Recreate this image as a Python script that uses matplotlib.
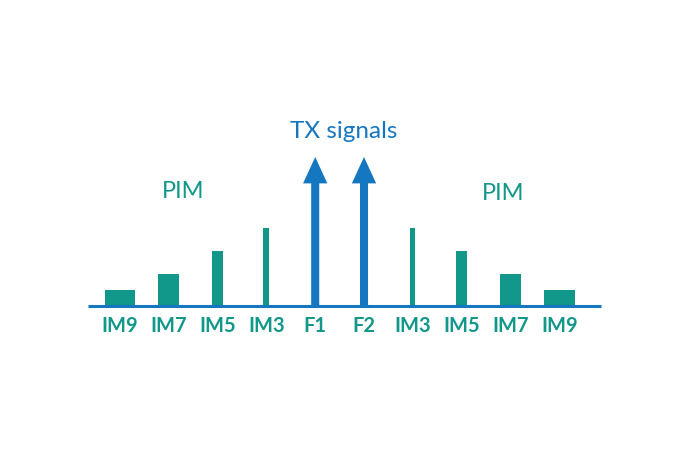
import numpy as np
import matplotlib
matplotlib.use("Agg")
import matplotlib.pyplot as plt

# rotulos e valores (alturas em unidades relativas)
labels = ["IM9", "IM7", "IM5", "IM3", "F1", "F2", "IM3", "IM5", "IM7", "IM9"]
pim_heights = [16, 32, 55, 78, 0, 0, 78, 55, 32, 16]
pim_widths = [0.6, 0.43, 0.21, 0.12, 0, 0, 0.1, 0.21, 0.42, 0.63]
tx_index = [4, 5]
tx_height = 149

teal = "#12978b"
blue = "#1677c1"

plt.rcParams["font.family"] = ["Lato", "DejaVu Sans"]

fig = plt.figure(figsize=(6.9, 4.55), dpi=100)
ax = fig.add_axes([0, 0, 1, 1])
ax.set_xlim(-2.459, 11.68)
ax.set_ylim(-149, 306)
ax.axis("off")

x = np.arange(len(labels))

# barras PIM
for xi, h, w in zip(x, pim_heights, pim_widths):
    if h > 0:
        ax.bar(xi, h, width=w, color=teal, zorder=2)

# setas TX
for i in tx_index:
    ax.annotate("", xy=(i, tx_height), xytext=(i, 0),
                arrowprops=dict(arrowstyle="simple,head_length=19,head_width=17.5,tail_width=5.8",
                                mutation_scale=1, color=blue, lw=0,
                                shrinkA=0, shrinkB=0), zorder=3)

# linha de base
ax.hlines(0, -0.66, 9.86, color=blue, lw=2.2, zorder=4)

# rotulos embaixo
for xi, lab in zip(x, labels):
    ax.text(xi, -20, lab, ha="center", va="center", fontsize=14.5,
            fontweight="bold", color=teal)

ax.text(4.59, 168, "TX signals", ha="center", va="baseline", fontsize=17.5, color=blue)
ax.text(1.29, 115, "PIM", ha="center", va="center", fontsize=17, color=teal)
ax.text(7.86, 113, "PIM", ha="center", va="center", fontsize=17, color=teal)

plt.savefig("out.png", dpi=100)
